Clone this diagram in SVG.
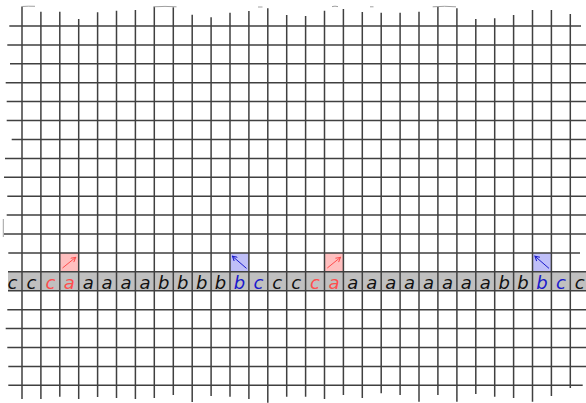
<svg xmlns="http://www.w3.org/2000/svg" width="586" height="403" viewBox="0 0 586 403">
<style>
.g{stroke:#404040;stroke-width:1.5;fill:none;stroke-linecap:butt}
.f{stroke:#a0a0a0;stroke-width:1;fill:none}
.t{font-family:"DejaVu Sans",sans-serif;font-style:italic;font-size:18px;text-anchor:middle}
.k{fill:#111}
.r{fill:#ff4d4d}
.b{fill:#1a1acc}
</style>
<defs>
<marker id="mr" markerWidth="6" markerHeight="6" refX="5" refY="3" orient="auto" markerUnits="userSpaceOnUse"><path d="M0.5,0.5 L5,3 L0.5,5.5" fill="none" stroke="#ff4d4d" stroke-width="1"/></marker>
<marker id="mb" markerWidth="6" markerHeight="6" refX="5" refY="3" orient="auto" markerUnits="userSpaceOnUse"><path d="M0.5,0.5 L5,3 L0.5,5.5" fill="none" stroke="#1a1acc" stroke-width="1"/></marker>
</defs>
<rect width="586" height="403" fill="#fff"/>
<g id="tape"><rect x="8" y="271.8" width="580" height="18.9" fill="#c0c0c0"/></g>
<g id="heads">
<rect x="59.72" y="252.9" width="18.91" height="18.9" fill="#ffbfbf"/>
<rect x="324.5" y="252.9" width="18.91" height="18.9" fill="#ffbfbf"/>
<rect x="230" y="252.9" width="18.91" height="18.9" fill="#bfbff8"/>
<rect x="532.5" y="252.9" width="18.91" height="18.9" fill="#bfbff8"/>
</g>
<g id="grid">
<path class="g" d="M9.3 26H581M7.3 44.9H590M10 63.8H590M5.7 82.7H590M6.7 101.6H590M6.7 120.6H590M11.7 139.5H590M5 158.4H590M4 177.3H590M7.3 196.2H590M6.7 215.1H590M4 234H590M8.3 252.9H580M8 271.8H590M8 290.7H590M7.3 309.7H590M5.7 328.6H590M7.3 347.5H590M8.3 366.4H590M8.3 385.3H582.7"/>
<path class="g" d="M22 6.5V399M40.9 11.7V399M59.8 11.7V396.7M78.7 19V399M97.6 12.3V397M116.5 10.7V398M135.4 10V399M154.3 6.7V398M173.3 7.3V395M192.2 14.7V402M211.1 17.3V396M230 12.7V396.7M248.9 11V399M267.8 8.3V402.7M286.7 15V396.7M305.6 16V396.7M324.5 10.7V399M343.4 9V395M362.3 12V398M381.2 12.7V393.3M400.1 12.7V395M419 11.7V401.7M437.9 6.7V395M456.9 8.3V401.7M475.8 19V394M494.7 18.3V396.7M513.6 15V398M532.5 10V401.7M551.4 10V396M570.3 14V388"/>
<path class="f" d="M22 6.5Q28 6 35 6.3M153.5 6.8Q165 6 176.5 6.8M432.7 6.8Q445 5.8 456 6.8M258 7H262.5M332 6.6Q335 5.8 338 6.6M370 6.8H373.5M3.3 219V237"/>
</g>
<g id="arrows">
<line x1="62.5" y1="268" x2="75.7" y2="257.3" stroke="#ff4d4d" stroke-width="1" marker-end="url(#mr)"/>
<line x1="327.3" y1="268" x2="340.5" y2="257.3" stroke="#ff4d4d" stroke-width="1" marker-end="url(#mr)"/>
<line x1="246.5" y1="268.4" x2="232.4" y2="256.2" stroke="#1a1acc" stroke-width="1" marker-end="url(#mb)"/>
<line x1="549" y1="268.4" x2="534.9" y2="256.2" stroke="#1a1acc" stroke-width="1" marker-end="url(#mb)"/>
</g>
<g id="symbols" class="t">
<text class="k" x="12.55" y="288.5">c</text>
<text class="k" x="31.46" y="288.5">c</text>
<text class="r" x="50.36" y="288.5">c</text>
<text class="r" x="69.27" y="288.5">a</text>
<text class="k" x="88.18" y="288.5">a</text>
<text class="k" x="107.09" y="288.5">a</text>
<text class="k" x="125.99" y="288.5">a</text>
<text class="k" x="144.9" y="288.5">a</text>
<text class="k" x="163.81" y="288.5">b</text>
<text class="k" x="182.71" y="288.5">b</text>
<text class="k" x="201.62" y="288.5">b</text>
<text class="k" x="220.53" y="288.5">b</text>
<text class="b" x="239.44" y="288.5">b</text>
<text class="b" x="258.34" y="288.5">c</text>
<text class="k" x="277.25" y="288.5">c</text>
<text class="k" x="296.16" y="288.5">c</text>
<text class="r" x="315.06" y="288.5">c</text>
<text class="r" x="333.97" y="288.5">a</text>
<text class="k" x="352.88" y="288.5">a</text>
<text class="k" x="371.78" y="288.5">a</text>
<text class="k" x="390.69" y="288.5">a</text>
<text class="k" x="409.6" y="288.5">a</text>
<text class="k" x="428.5" y="288.5">a</text>
<text class="k" x="447.41" y="288.5">a</text>
<text class="k" x="466.32" y="288.5">a</text>
<text class="k" x="485.23" y="288.5">a</text>
<text class="k" x="504.13" y="288.5">b</text>
<text class="k" x="523.04" y="288.5">b</text>
<text class="b" x="541.95" y="288.5">b</text>
<text class="b" x="560.85" y="288.5">c</text>
<text class="k" x="579.76" y="288.5">c</text>
</g>
</svg>
